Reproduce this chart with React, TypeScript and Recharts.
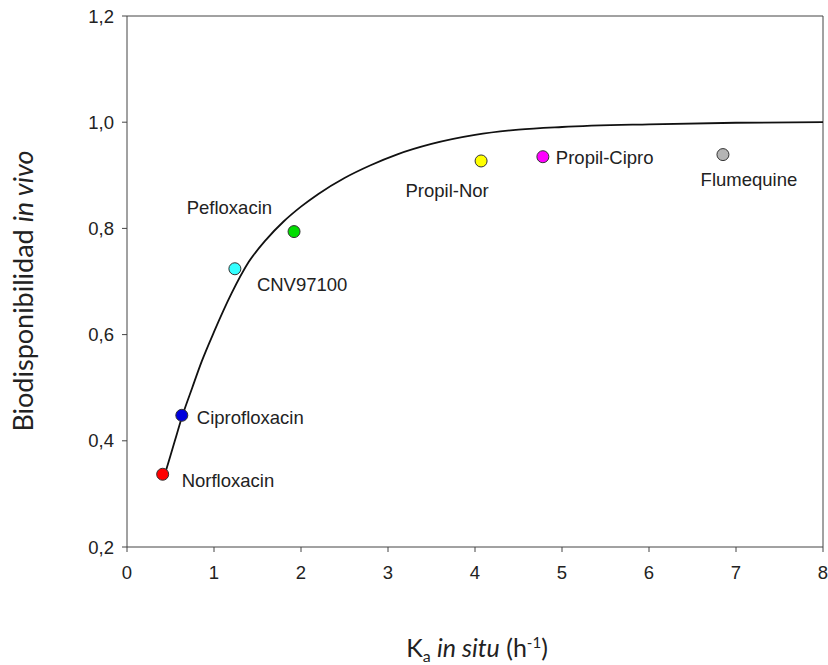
import { ComposedChart, Line, Scatter, XAxis, YAxis, ReferenceLine } from "recharts"

// measured compounds
const compounds = ["Norfloxacin", "Ciprofloxacin", "CNV97100", "Pefloxacin", "Propil-Nor", "Propil-Cipro", "Flumequine"]
const kaInSitu = [0.41, 0.63, 1.24, 1.92, 4.07, 4.78, 6.85]
const bioInVivo = [0.337, 0.448, 0.724, 0.794, 0.927, 0.935, 0.939]
const pointColors = ["#ff0000", "#0000dd", "#33ffff", "#00dd00", "#ffff00", "#ff00ff", "#b4b4b4"]

// fitted curve
const fitKa = [0.45, 0.55, 0.63, 0.75, 0.86, 1.0, 1.2, 1.4, 1.6, 1.8, 2.0, 2.2, 2.5, 2.8, 3.1, 3.5, 4.0, 4.5, 5.0, 6.0, 7.0, 8.0]
const fitBio = [0.345, 0.4, 0.444, 0.5, 0.55, 0.605, 0.677, 0.737, 0.779, 0.813, 0.841, 0.865, 0.895, 0.919, 0.939, 0.959, 0.976, 0.986, 0.991, 0.996, 0.999, 1.0]

const xTicks = [0, 1, 2, 3, 4, 5, 6, 7, 8]
const yTicks = [0.2, 0.4, 0.6, 0.8, 1.0, 1.2]

// where each name sits relative to its dot
const labelPlacement: Record<string, { dx: number; dy: number; anchor: "start" | "middle" | "end" }> = {
  Norfloxacin: { dx: 19, dy: 6, anchor: "start" },
  Ciprofloxacin: { dx: 15, dy: 2, anchor: "start" },
  CNV97100: { dx: 22, dy: 16, anchor: "start" },
  Pefloxacin: { dx: -22, dy: -24, anchor: "end" },
  "Propil-Nor": { dx: -34, dy: 30, anchor: "middle" },
  "Propil-Cipro": { dx: 13, dy: 1, anchor: "start" },
  Flumequine: { dx: 26, dy: 25, anchor: "middle" },
}

const points = compounds.map((name, i) => ({ name, x: kaInSitu[i], y: bioInVivo[i], color: pointColors[i] }))
const curve = fitKa.map((x, i) => ({ x, y: fitBio[i] }))

const font = "'Liberation Sans', Arial, sans-serif"
const titleFont = "Lato, 'Open Sans', sans-serif"
const axisColor = "#444"

const fmt = (v: number) => v.toFixed(1).replace(".", ",")

function Dot(props: any) {
  const { cx, cy, payload } = props
  const p = labelPlacement[payload.name]
  return (
    <g>
      <circle cx={cx} cy={cy} r={6} fill={payload.color} stroke="#333" strokeWidth={1} />
      <text
        x={cx + p.dx}
        y={cy + p.dy}
        textAnchor={p.anchor}
        dominantBaseline="central"
        fontFamily={font}
        fontSize={18.5}
        fill="#222"
      >
        {payload.name}
      </text>
    </g>
  )
}

export default function App() {
  return (
    <div style={{ position: "absolute", left: 0, top: 0, width: 828, height: 665, background: "#fff" }}>
      <ComposedChart width={828} height={665} margin={{ top: 16, right: 5, bottom: 88, left: 67 }}>
        <XAxis
          type="number"
          dataKey="x"
          domain={[0, 8]}
          ticks={xTicks}
          allowDataOverflow
          height={30}
          tickSize={5}
          tickMargin={14}
          stroke={axisColor}
          tick={{ fill: "#222", fontSize: 18.5, fontFamily: font }}
        />
        <YAxis
          type="number"
          dataKey="y"
          domain={[0.2, 1.2]}
          ticks={yTicks}
          allowDataOverflow
          width={60}
          tickSize={5}
          tickMargin={8}
          tickFormatter={fmt}
          stroke={axisColor}
          tick={{ fill: "#222", fontSize: 18.5, fontFamily: font }}
        />
        <ReferenceLine y={1.2} stroke={axisColor} strokeWidth={1} />
        <ReferenceLine x={8} stroke={axisColor} strokeWidth={1} />
        <Line
          data={curve}
          dataKey="y"
          type="monotone"
          stroke="#111"
          strokeWidth={1.8}
          dot={false}
          activeDot={false}
          isAnimationActive={false}
        />
        <Scatter data={points} dataKey="y" shape={Dot} isAnimationActive={false} />
      </ComposedChart>
      <div
        style={{
          position: "absolute",
          left: 22,
          top: 291,
          transform: "translate(-50%, -50%) rotate(-90deg)",
          whiteSpace: "nowrap",
          fontFamily: titleFont,
          fontSize: 27,
          color: "#222",
        }}
      >
        Biodisponibilidad <i>in vivo</i>
      </div>
      <div
        style={{
          position: "absolute",
          left: 477,
          top: 634,
          transform: "translateX(-50%)",
          whiteSpace: "nowrap",
          fontFamily: titleFont,
          fontSize: 25,
          lineHeight: "26px",
          color: "#222",
        }}
      >
        K<span style={{ fontSize: 16, position: "relative", top: 5 }}>a</span> <i>in situ</i> (h
        <span style={{ fontSize: 15, position: "relative", top: -9 }}>-1</span>)
      </div>
    </div>
  )
}
